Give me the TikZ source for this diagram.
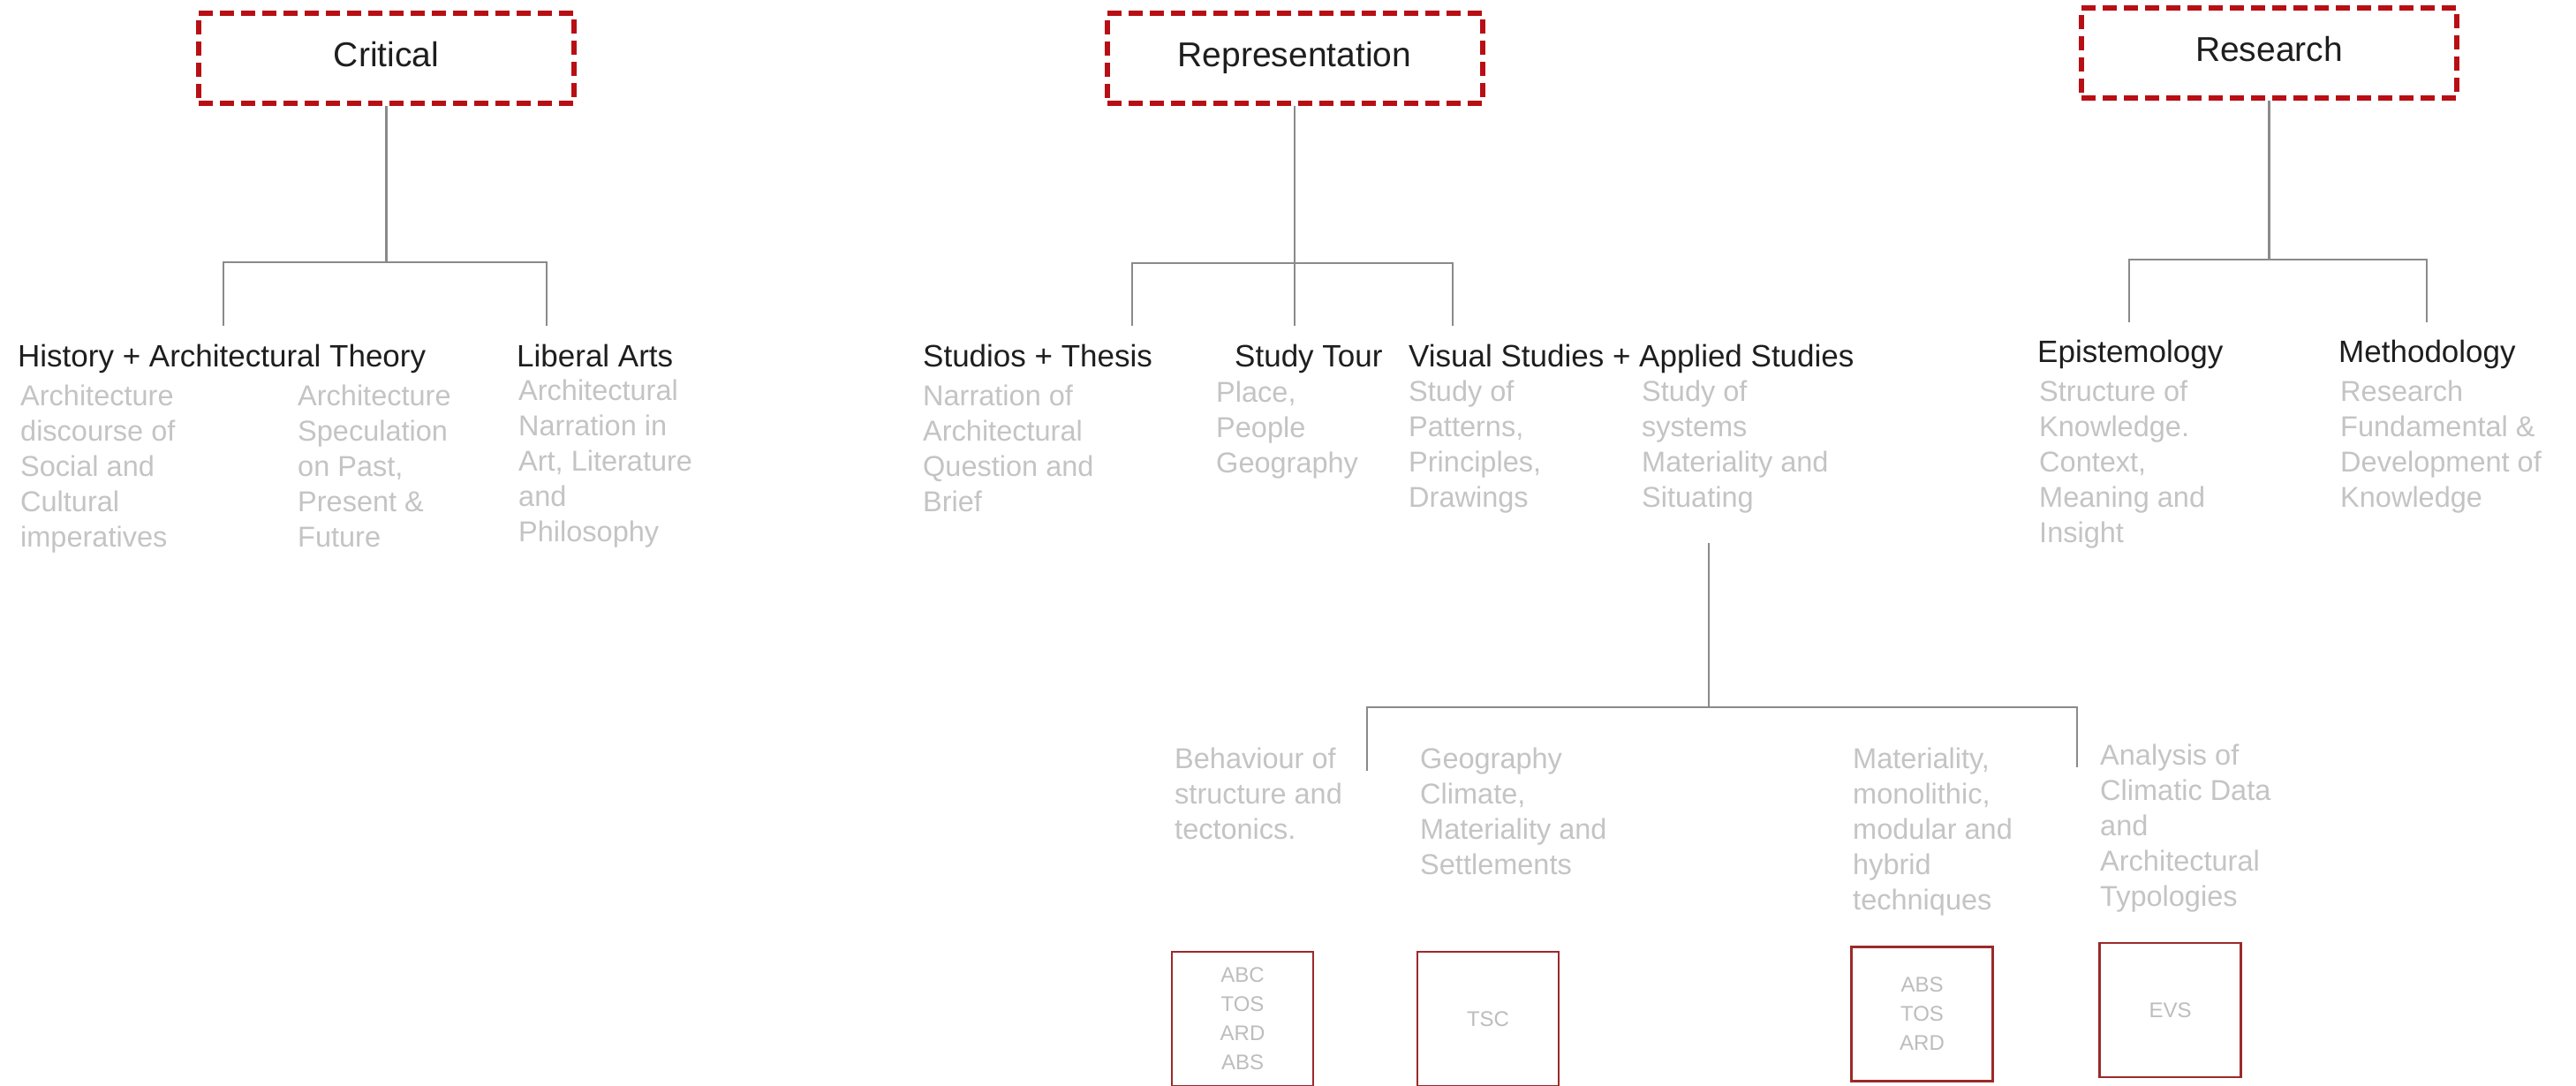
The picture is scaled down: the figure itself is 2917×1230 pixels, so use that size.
\documentclass[tikz,border=0pt]{standalone}
\usepackage{fontspec}
\setmainfont{Liberation Sans}
\definecolor{headc}{HTML}{1E1E1E}
\definecolor{descc}{HTML}{C4C4C4}
\definecolor{codec}{HTML}{BDBDBD}
\definecolor{titlec}{HTML}{B80F14}
\definecolor{boxc}{HTML}{9B2A2A}
\definecolor{linec}{HTML}{8A8A8A}
\newcommand{\lns}[1]{\begin{tabular}[t]{@{}l@{}}#1\end{tabular}}
\begin{document}
\begin{tikzpicture}[x=1pt,y=-1pt,
  head/.style={anchor=base west, inner sep=0pt, font=\fontsize{35}{42}\selectfont, text=headc},
  desc/.style={anchor=base west, inner sep=0pt, font=\fontsize{32.5}{40}\selectfont, text=descc},
  titlebox/.style={draw=titlec, line width=6pt, dash pattern=on 16pt off 8pt, minimum width=425pt, minimum height=102pt, font=\fontsize{39}{47}\selectfont, text=headc, text height=28pt, text depth=8pt, inner sep=0pt},
  codebox/.style={draw=boxc, line width=2.5pt, minimum width=160pt, minimum height=152pt, font=\fontsize{24}{33}\selectfont, text=codec, align=center, inner sep=0pt},
  link/.style={draw=linec, line width=2.2pt}]
\useasboundingbox[fill=white] (0,0) rectangle (2917,1230);

% ---------- titles ----------
\node[titlebox] (crit) at (437.5,66) {Critical};
\node[titlebox] (repr) at (1466,66) {Representation};
\node[titlebox] (rsch) at (2569.5,60) {Research};

% ---------- Critical branch ----------
\node[head] (hist) at (20,415) {History + Architectural Theory};
\node[head] (libarts) at (585,415) {Liberal Arts};
\node[desc] (histA) at (23,459) {\lns{Architecture\\discourse of\\Social and\\Cultural\\imperatives}};
\node[desc] (histB) at (337,459) {\lns{Architecture\\Speculation\\on Past,\\Present \&\\Future}};
\node[desc] (libD) at (587,453) {\lns{Architectural\\Narration in\\Art, Literature\\and\\Philosophy}};
\coordinate (cbl) at (253,297);
\coordinate (cbr) at (619,297);
\coordinate (cdl) at (253,369);
\coordinate (cdr) at (619,369);
\draw[link] (crit.south) -- (crit.south |- cbl);
\draw[link] (cdl) |- (cbr) -- (cdr);

% ---------- Representation branch ----------
\node[head] (studios) at (1045,415) {Studios + Thesis};
\node[head] (tour) at (1398,415) {Study Tour};
\node[head] (visual) at (1595,415) {Visual Studies + Applied Studies};
\node[desc] (studD) at (1045,459) {\lns{Narration of\\Architectural\\Question and\\Brief}};
\node[desc] (tourD) at (1377,455) {\lns{Place,\\People\\Geography}};
\node[desc] (visD) at (1595,454) {\lns{Study of\\Patterns,\\Principles,\\Drawings}};
\node[desc] (appD) at (1859,454) {\lns{Study of\\systems\\Materiality and\\Situating}};
\coordinate (rbl) at (1282,298);
\coordinate (rbr) at (1645,298);
\coordinate (rdl) at (1282,369);
\coordinate (rdr) at (1645,369);
\coordinate (rdm) at (1466,369);
\draw[link] (repr.south) -- (rdm);
\draw[link] (rdl) |- (rbr) -- (rdr);

% ---------- Research branch ----------
\node[head] (epis) at (2307,410) {Epistemology};
\node[head] (meth) at (2648,410) {Methodology};
\node[desc] (episD) at (2309,454) {\lns{Structure of\\Knowledge.\\Context,\\Meaning and\\Insight}};
\node[desc] (methD) at (2650,454) {\lns{Research\\Fundamental \&\\Development of\\Knowledge}};
\coordinate (sbl) at (2411,294);
\coordinate (sbr) at (2748,294);
\coordinate (sdl) at (2411,365);
\coordinate (sdr) at (2748,365);
\draw[link] (rsch.south) -- (rsch.south |- sbl);
\draw[link] (sdl) |- (sbr) -- (sdr);

% ---------- Applied studies sub-branch ----------
\coordinate (atop) at (1935,615);
\coordinate (abus) at (1935,801);
\coordinate (abl) at (1548,801);
\coordinate (abr) at (2352,801);
\coordinate (adl) at (1548,873);
\coordinate (adr) at (2352,869);
\draw[link] (atop) -- (abus);
\draw[link] (adl) |- (abr) -- (adr);

\node[desc] (behD) at (1330,870) {\lns{Behaviour of\\structure and\\tectonics.}};
\node[desc] (geoD) at (1608,870) {\lns{Geography\\Climate,\\Materiality and\\Settlements}};
\node[desc] (matD) at (2098,870) {\lns{Materiality,\\monolithic,\\modular and\\hybrid\\techniques}};
\node[desc] (anaD) at (2378,866) {\lns{Analysis of\\Climatic Data\\and\\Architectural\\Typologies}};

% ---------- code boxes ----------
\node[codebox] (box1) at (1407,1154) {ABC\\TOS\\ARD\\ABS};
\node[codebox] (box2) at (1685,1154) {TSC};
\node[codebox] (box3) at (2176.5,1148.5) {ABS\\TOS\\ARD};
\node[codebox] (box4) at (2457.5,1144) {EVS};
\end{tikzpicture}
\end{document}
